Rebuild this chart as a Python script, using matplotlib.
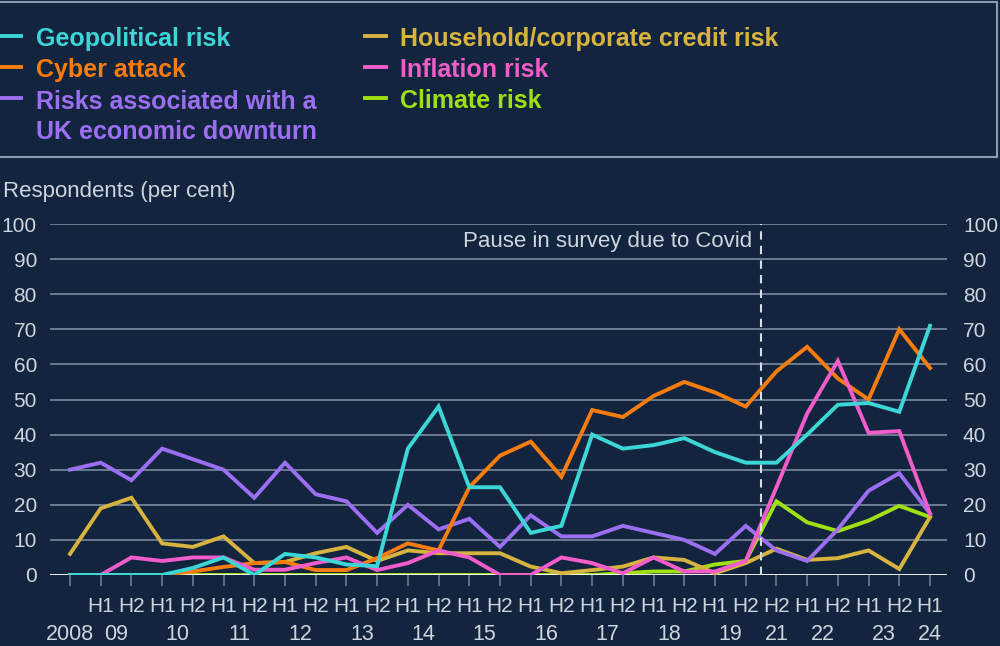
import numpy as np
import matplotlib
matplotlib.use('Agg')
import matplotlib.pyplot as plt
from matplotlib.lines import Line2D
from matplotlib.patches import Rectangle

plt.rcParams['font.family'] = ['Liberation Sans', 'DejaVu Sans']

# data: half-year survey points, 2008 H2 to 2024 H1 (no survey 2020 H1 - 2021 H1)
halves = ['', 'H1', 'H2', 'H1', 'H2', 'H1', 'H2', 'H1', 'H2', 'H1', 'H2',
          'H1', 'H2', 'H1', 'H2', 'H1', 'H2', 'H1', 'H2', 'H1', 'H2',
          'H1', 'H2', 'H2', 'H1', 'H2', 'H1', 'H2', 'H1']
years = ['2008', '09', '10', '11', '12', '13', '14', '15', '16', '17',
         '18', '19', '21', '22', '23', '24']
year_pos = [0, 1.5, 3.5, 5.5, 7.5, 9.5, 11.5, 13.5, 15.5, 17.5,
            19.5, 21.5, 23, 24.5, 26.5, 28]

nan = np.nan
geopolitical = [0, 0, 0, 0, 2, 5, 0, 6, 5, 3, 2.5, 36, 48, 25, 25, 12, 14,
                40, 36, 37, 39, 35, 32, 32, 40, 48.5, 49, 46.5, 71]
cyber = [nan, nan, nan, 0, 1, 2.3, 3.4, 3.7, 1.4, 1.4, 4.8, 9, 7, 25, 34, 38,
         28, 47, 45, 51, 55, 52, 48, 58, 65, 56, 50, 70, 59]
downturn = [30, 32, 27, 36, 33, 30, 22, 32, 23, 21, 12, 20, 13, 16, 8, 17, 11,
            11, 14, 12, 10, 6, 14, 7, 4, 13, 24, 29, 17.5]
credit = [6, 19, 22, 9, 8, 11, 3.4, 3.7, 6.2, 8, 4, 7, 6.2, 6.2, 6.2, 2.4, 0.5,
          1.4, 2.4, 5, 4.3, 0.5, 3.4, 7.5, 4.3, 4.8, 7, 1.7, 16.5]
inflation = [nan, 0, 5, 4, 5, 5, 1.5, 1.5, 3.4, 5, 1.4, 3.4, 7, 5, 0, 0, 5,
             3.4, 0.5, 5, 1, 1, 4, 25, 46, 61, 40.5, 41, 17.5]
climate = [0] * 18 + [0.5, 1, 1, 3, 4, 21, 15, 12.5, 15.5, 19.7, 16.5]

x = np.arange(len(halves))

bg = '#13253e'
grid_c = '#6b7b91'
txt_c = '#cdd5de'

series = [
    ('Geopolitical risk', geopolitical, '#3dd6d6'),
    ('Cyber attack', cyber, '#fa7d0c'),
    ('Risks associated with a\nUK economic downturn', downturn, '#9c6ff2'),
    ('Household/corporate credit risk', credit, '#d7b440'),
    ('Inflation risk', inflation, '#f25ccb'),
    ('Climate risk', climate, '#a0e010'),
]

fig = plt.figure(figsize=(10, 6.46), dpi=100, facecolor=bg)
W, H = 1000, 646

ax = fig.add_axes([50 / W, 1 - 575 / H, (947 - 50) / W, (575 - 224) / H])
ax.set_facecolor(bg)
ax.set_xlim((50 - 70) / 30.714, (947 - 70) / 30.714)
ax.set_ylim(0, 100)

for v in range(10, 101, 10):
    ax.axhline(v, color=grid_c, lw=1.4, zorder=1)

# climate line sits under the zero axis, others on top
draw_order = [5, 3, 2, 1, 4, 0]
for k in draw_order:
    name, vals, col = series[k]
    z = 2 if k == 5 else 4
    ax.plot(x, vals, color=col, lw=2.8, zorder=z, solid_joinstyle='miter')
ax.axhline(0, color='white', lw=2.0, zorder=3)

# pause in survey
ax.axvline(22.5, color='#d5dce6', lw=1.5, ls=(0, (4, 3)), zorder=5)
ax.text(22.2, 94.9, 'Pause in survey due to Covid', color=txt_c, fontsize=16,
        ha='right', va='center')

for s in ax.spines.values():
    s.set_visible(False)

ax.set_yticks(range(0, 101, 10))
ax.tick_params(axis='y', length=0, labelsize=15, labelcolor=txt_c, pad=9.4)
ax.set_xticks(x)
ax.set_xticklabels(halves)
ax.tick_params(axis='x', which='major', length=8, width=1.2, color=grid_c,
               labelsize=15, labelcolor=txt_c, pad=7.5)
# tiny offset so minor ticks are not dropped where they meet a major tick
ax.set_xticks(np.array(year_pos) + 1e-3, minor=True)
ax.set_xticklabels(years, minor=True)
ax.tick_params(axis='x', which='minor', length=0, labelsize=15.5,
               labelcolor=txt_c, pad=35.5)

ax2 = ax.twinx()
ax2.set_ylim(0, 100)
ax2.set_yticks(range(0, 101, 10))
ax2.tick_params(axis='y', length=0, labelsize=15, labelcolor=txt_c, pad=11.5)
for s in ax2.spines.values():
    s.set_visible(False)

fig.text(3 / W, 1 - 192 / H, 'Respondents (per cent)', color=txt_c,
         fontsize=16, ha='left', va='center')

# legend block
fig.add_artist(Rectangle((-2 / W, 1 - 157 / H), 999 / W, (157 - 2) / H,
                         transform=fig.transFigure, fill=False,
                         edgecolor='#8a9ab0', lw=1.5))
col_x = [(0, 36), (365, 400)]
row_base = [46, 77, 108]
line_gap = 31
for k, (name, vals, col) in enumerate(series):
    c, r = divmod(k, 3)
    hx, tx = col_x[c]
    yb = row_base[r]
    fig.add_artist(Line2D([hx / W, (hx + 21) / W], [1 - (yb - 10) / H] * 2,
                          transform=fig.transFigure, color=col, lw=2.8))
    n_lines = name.count('\n')
    fig.text(tx / W, 1 - (yb + line_gap * n_lines) / H, name, color=col,
             fontsize=18, fontweight='bold', ha='left', va='baseline',
             linespacing=1.29)

fig.savefig('out.png', dpi=100, facecolor=bg)
